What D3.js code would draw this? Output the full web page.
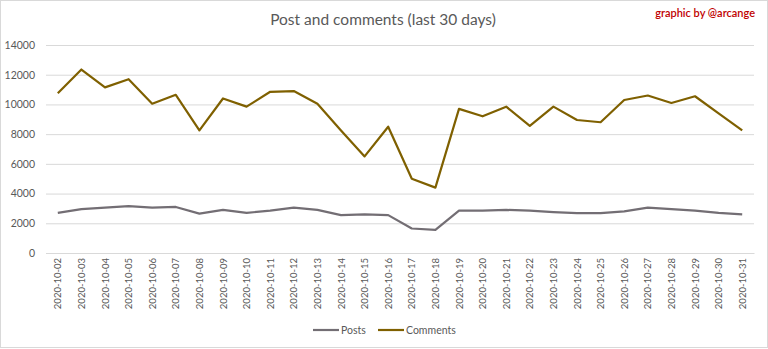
<!DOCTYPE html>
<html>
<head>
<meta charset="utf-8">
<script src="https://cdn.jsdelivr.net/npm/d3@7/dist/d3.min.js"></script>
<style>
  html, body { margin: 0; padding: 0; background: #fff; }
  svg { display: block; font-family: Lato, "Open Sans", sans-serif; }
</style>
</head>
<body>
<svg id="chart" width="768" height="349"></svg>
<script>
// Daily activity, October 2020
const dates = [
  "2020-10-02","2020-10-03","2020-10-04","2020-10-05","2020-10-06","2020-10-07",
  "2020-10-08","2020-10-09","2020-10-10","2020-10-11","2020-10-12","2020-10-13",
  "2020-10-14","2020-10-15","2020-10-16","2020-10-17","2020-10-18","2020-10-19",
  "2020-10-20","2020-10-21","2020-10-22","2020-10-23","2020-10-24","2020-10-25",
  "2020-10-26","2020-10-27","2020-10-28","2020-10-29","2020-10-30","2020-10-31"
];
const posts = [
  2700, 2950, 3050, 3150, 3050, 3100, 2650, 2900, 2700, 2850,
  3050, 2900, 2550, 2600, 2550, 1650, 1550, 2850, 2850, 2900,
  2850, 2750, 2680, 2680, 2800, 3050, 2950, 2850, 2700, 2600
];
const comments = [
  10750, 12350, 11150, 11700, 10050, 10650, 8250, 10400, 9850, 10850,
  10900, 10050, 8250, 6500, 8500, 5000, 4400, 9700, 9200, 9850,
  8550, 9850, 8950, 8800, 10300, 10600, 10100, 10550, 9400, 8250
];
const yTicks = [0, 2000, 4000, 6000, 8000, 10000, 12000, 14000];
const seriesNames = ["Posts", "Comments"];
const seriesColors = ["#736e74", "#7f6000"];

const svg = d3.select("#chart");
const W = 768, H = 349;
const textColor = "#595959";

// frame
svg.append("rect").attr("x", 0.5).attr("y", 0.5).attr("width", W - 1).attr("height", H - 2)
  .attr("fill", "#fff").attr("stroke", "#d9d9d9");

const plot = { left: 46, right: 754, top: 45, bottom: 253 };

const x = d3.scaleBand().domain(dates).range([plot.left, plot.right]);
const y = d3.scaleLinear().domain([0, 14000]).range([plot.bottom, plot.top]);

// gridlines + y labels
const yAxis = d3.axisLeft(y).tickValues(yTicks).tickFormat(d3.format("d"))
  .tickSize(-(plot.right - plot.left)).tickPadding(11);
const gy = svg.append("g").attr("transform", `translate(${plot.left},0)`).call(yAxis);
gy.select(".domain").remove();
gy.selectAll(".tick line").attr("stroke", "#d9d9d9").attr("stroke-width", 1);
gy.selectAll(".tick text").attr("fill", textColor).style("font-size", "10.5px")
  .style("font-family", "Lato, sans-serif");

// x labels, rotated
const xAxis = d3.axisBottom(x).tickSize(0).tickPadding(0);
const gx = svg.append("g").attr("transform", `translate(0,${plot.bottom})`).call(xAxis);
gx.select(".domain").attr("stroke", "#d9d9d9");
gx.selectAll(".tick text")
  .attr("fill", textColor)
  .style("font-size", "9.5px")
  .style("font-family", "Lato, sans-serif")
  .attr("text-anchor", "end")
  .attr("dy", null)
  .attr("transform", "translate(0,5) rotate(-90)")
  .attr("x", 0).attr("y", 0)
  .attr("dominant-baseline", "central");

// lines
const cx = d => x(d) + x.bandwidth() / 2;
[posts, comments].forEach((vals, i) => {
  const line = d3.line().x((v, j) => cx(dates[j])).y(v => y(v));
  svg.append("path").datum(vals)
    .attr("d", line)
    .attr("fill", "none")
    .attr("stroke", seriesColors[i])
    .attr("stroke-width", 2.2)
    .attr("stroke-linejoin", "round");
});

// title
svg.append("text").attr("x", 383).attr("y", 25).attr("text-anchor", "middle")
  .attr("fill", textColor).style("font-size", "15.5px").text("Post and comments (last 30 days)");

svg.append("text").attr("x", 755).attr("y", 17).attr("text-anchor", "end")
  .attr("fill", "#c00000").style("font-size", "11px").style("font-weight", "600")
  .text("graphic by @arcange");

// legend
const legendX = [313, 378];
const legend = svg.append("g");
seriesNames.forEach((name, i) => {
  legend.append("line")
    .attr("x1", legendX[i]).attr("x2", legendX[i] + 26)
    .attr("y1", 330).attr("y2", 330)
    .attr("stroke", seriesColors[i]).attr("stroke-width", 2.2);
  legend.append("text").attr("x", legendX[i] + 28).attr("y", 330)
    .attr("dominant-baseline", "central")
    .attr("fill", textColor).style("font-size", "10.5px").text(name);
});
</script>
</body>
</html>
